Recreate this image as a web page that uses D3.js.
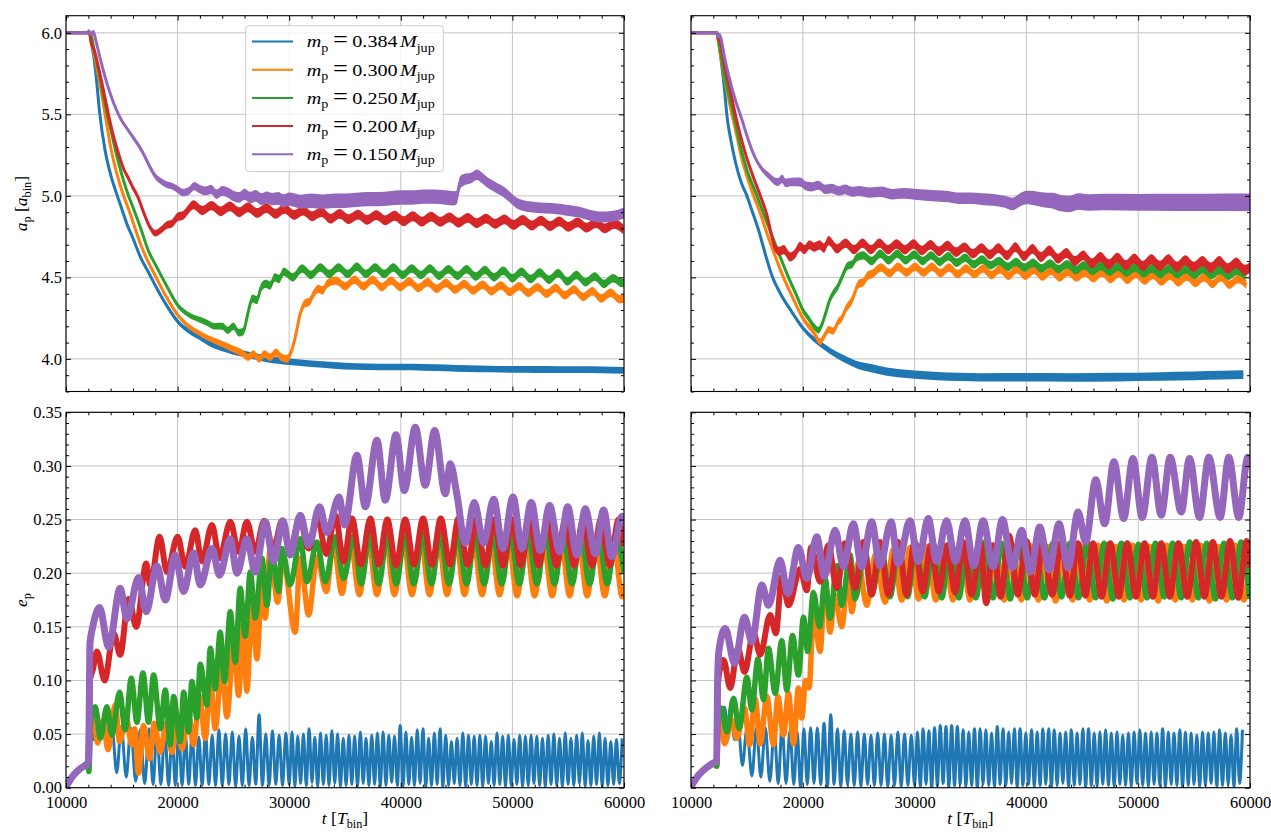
<!DOCTYPE html>
<html>
<head>
<meta charset="utf-8">
<script src="https://cdn.jsdelivr.net/npm/d3@7"></script>
<style>
  html, body { margin: 0; padding: 0; background: #fff; }
  svg { display: block; }
  text { white-space: pre; }
</style>
</head>
<body>
<div id="chart"></div>
<script>
// ---- data -------------------------------------------------------------

const masses = ['0.384', '0.300', '0.250', '0.200', '0.150'];
const tRange = [10000, 60000];

// semi-major axis, left column (pts = [t, a]; osc = values every dt from t0)
const aBlueL = {pts: [[10000,6],[12100,6],[12300,5.93],[12500,5.85],[12750,5.7],[13000,5.52],[13500,5.28],[14000,5.13],[14600,5.0],[15000,4.92],[15500,4.82],[16000,4.74],[16700,4.62],[17400,4.53],[18000,4.45],[19000,4.33],[20000,4.23],[21000,4.17],[22000,4.13],[23000,4.09],[24000,4.065],[25000,4.045],[26000,4.03],[27000,4.015],[28000,4.0],[29000,3.99],[30000,3.982],[32000,3.97],[34000,3.96],[36000,3.953],[38000,3.95],[40000,3.95],[42000,3.948],[44000,3.945],[46000,3.94],[48000,3.938],[50000,3.935],[52000,3.935],[54000,3.934],[56000,3.934],[58000,3.933],[60000,3.93]]};
const aOrangeL = {pts: [[10000,6],[12150,6],[12500,5.88],[13000,5.7],[13500,5.5],[14000,5.3],[14500,5.15],[15160,5.0],[15600,4.92],[16000,4.84],[16700,4.7],[17400,4.59],[18000,4.51],[19000,4.38],[20000,4.27],[21000,4.2],[22000,4.155],[23000,4.12],[24000,4.09],[25000,4.06],[25800,4.035],[26300,4.01],[26800,4.03],[27300,4.0],[27800,4.03],[28300,4.01],[28800,4.04],[29300,4.01],[29800,4.0],[30100,4.03],[30500,4.12],[31000,4.28],[31400,4.34],[31800,4.35],[32200,4.4],[32600,4.43],[33000,4.42],[33400,4.46]],
  t0: 34200, dt: 820,
  osc: [4.48,4.445,4.485,4.445,4.485,4.44,4.48,4.44,4.475,4.435,4.47,4.43,4.465,4.425,4.46,4.42,4.455,4.415,4.45,4.41,4.445,4.405,4.44,4.4,4.435,4.39,4.425,4.38,4.415,4.37,4.405,4.365,4.39]};
const aGreenL = {pts: [[10000,6],[12150,6],[12500,5.9],[13000,5.74],[13700,5.5],[14000,5.41],[14500,5.26],[15000,5.13],[15600,5.0],[16000,4.93],[16700,4.8],[17400,4.66],[18000,4.58],[19000,4.45],[20000,4.33],[21000,4.27],[22000,4.24],[22700,4.22],[23300,4.2],[24000,4.2],[24500,4.175],[25000,4.2],[25500,4.16],[25900,4.17],[26300,4.28],[26700,4.37],[27100,4.36],[27500,4.44],[27900,4.46],[28300,4.45],[28700,4.5],[29100,4.49]],
  t0: 29500, dt: 820,
  osc: [4.535,4.5,4.555,4.515,4.56,4.52,4.56,4.52,4.565,4.52,4.56,4.52,4.56,4.515,4.555,4.515,4.555,4.51,4.55,4.51,4.55,4.505,4.545,4.5,4.54,4.495,4.535,4.49,4.53,4.485,4.525,4.475,4.515,4.47,4.505,4.46,4.495,4.465,4.48]};
const aRedL = {pts: [[10000,6],[12100,6],[12250,5.94],[12500,5.9],[13000,5.76],[13500,5.6],[13800,5.5],[14200,5.38],[14700,5.26],[15200,5.16],[15500,5.12],[16000,5.05],[16400,5.0],[17000,4.89],[17500,4.81],[18000,4.77],[18500,4.79],[19000,4.82],[19500,4.83],[20000,4.87],[20500,4.88],[21000,4.92]],
  t0: 21400, dt: 820,
  osc: [4.945,4.91,4.94,4.905,4.935,4.9,4.93,4.895,4.925,4.89,4.92,4.883,4.91,4.875,4.9,4.86,4.89,4.857,4.885,4.853,4.882,4.85,4.878,4.845,4.875,4.842,4.872,4.84,4.868,4.836,4.865,4.832,4.86,4.828,4.856,4.822,4.852,4.818,4.848,4.814,4.843,4.81,4.838,4.805,4.833,4.8,4.828,4.795]};
const aPurpleL = {pts: [[10000,6],[11900,6],[12050,6.012],[12200,5.99],[12450,6.008],[12650,5.96],[13000,5.86],[13500,5.73],[14000,5.62],[14500,5.53],[15000,5.46],[15500,5.41],[16000,5.36],[16500,5.31],[17000,5.25],[17500,5.18],[18000,5.12],[18500,5.09],[19000,5.07],[19500,5.06],[20000,5.04],[20500,5.02],[21000,5.03],[21500,5.06],[22000,5.04],[22500,5.03],[23000,5.04],[23500,5.01],[24000,5.03],[24500,5.02],[25000,5.0],[25500,4.99],[26000,5.01],[26500,4.99],[27000,5.0],[27500,4.98],[28000,4.99],[28500,4.98],[29000,4.985],[29500,4.97],[30000,4.98],[31000,4.965],[32000,4.97],[33000,4.965],[34000,4.97],[35000,4.97],[36000,4.975],[37000,4.98],[38000,4.98],[39000,4.985],[40000,4.99],[41000,4.99],[42000,4.995],[43000,4.995],[44000,4.99],[44800,4.985],[45000,4.99],[45300,5.08],[45700,5.1],[46300,5.11],[46800,5.13],[47300,5.11],[47800,5.08],[48300,5.06],[48800,5.04],[49300,5.02],[49800,4.99],[50300,4.96],[51000,4.94],[52000,4.93],[53000,4.925],[54000,4.92],[55000,4.91],[56000,4.9],[57000,4.88],[58000,4.87],[59000,4.875],[60000,4.895]]};

// semi-major axis, right column
const aBlueR = {pts: [[10000,6],[12300,6],[12500,5.93],[12750,5.8],[13000,5.65],[13200,5.5],[13600,5.33],[14000,5.2],[14500,5.08],[15000,5.0],[15500,4.9],[16000,4.8],[16700,4.63],[17300,4.5],[18000,4.4],[19000,4.29],[20000,4.19],[21000,4.12],[22000,4.07],[23000,4.025],[24000,3.99],[25000,3.96],[26000,3.945],[27000,3.93],[28000,3.917],[29000,3.91],[30000,3.903],[32000,3.895],[34000,3.89],[36000,3.887],[40000,3.887],[44000,3.886],[48000,3.888],[52000,3.892],[55000,3.896],[57500,3.9],[59400,3.904]]};
const aOrangeR = {pts: [[10000,6],[12300,6],[12600,5.88],[13000,5.72],[13660,5.5],[14000,5.4],[14500,5.24],[15000,5.12],[15600,5.0],[16000,4.93],[17000,4.73],[18270,4.5],[19000,4.39],[20000,4.25],[21000,4.16],[21550,4.105],[22000,4.15],[22300,4.18],[22700,4.17],[23200,4.23],[23500,4.25],[23800,4.3],[24400,4.36],[25000,4.46],[25400,4.47],[25800,4.51],[26200,4.52]],
  t0: 27000, dt: 760,
  osc: [4.56,4.525,4.565,4.53,4.565,4.53,4.565,4.525,4.56,4.52,4.555,4.52,4.555,4.515,4.55,4.51,4.55,4.51,4.545,4.505,4.54,4.5,4.535,4.5,4.53,4.495,4.53,4.49,4.525,4.485,4.52,4.48,4.515,4.475,4.51,4.47,4.505,4.465,4.5,4.46,4.5,4.455,4.49,4.455]};
const aGreenR = {pts: [[10000,6],[12300,6],[12600,5.9],[13000,5.74],[13810,5.5],[14500,5.28],[15000,5.16],[15900,5.0],[16500,4.89],[17500,4.71],[18720,4.5],[19500,4.38],[20000,4.3],[20500,4.25],[21000,4.2],[21400,4.175],[21700,4.21],[22000,4.27],[22400,4.36],[22700,4.4],[23100,4.44],[23500,4.5],[24000,4.57],[24400,4.58],[24800,4.62]],
  t0: 25400, dt: 760,
  osc: [4.635,4.6,4.645,4.605,4.645,4.605,4.64,4.6,4.635,4.595,4.63,4.59,4.62,4.58,4.61,4.575,4.6,4.565,4.595,4.56,4.59,4.555,4.585,4.55,4.58,4.545,4.575,4.54,4.57,4.535,4.565,4.53,4.56,4.525,4.555,4.52,4.555,4.52,4.55,4.515,4.55,4.515,4.545,4.51,4.54,4.505]};
const aRedR = {pts: [[10000,6],[12300,6],[12450,5.96],[12600,5.95],[13000,5.8],[13500,5.65],[13960,5.5],[14500,5.35],[15000,5.23],[15500,5.13],[16200,5.0],[16800,4.88],[17200,4.76],[17530,4.68],[17900,4.66],[18300,4.67],[18870,4.625],[19300,4.645],[19750,4.69],[20150,4.67],[20600,4.7],[21000,4.685],[21500,4.7],[21900,4.68]],
  t0: 22300, dt: 760,
  osc: [4.725,4.675,4.71,4.67,4.71,4.67,4.71,4.67,4.705,4.67,4.705,4.665,4.7,4.66,4.695,4.655,4.685,4.645,4.68,4.64,4.68,4.635,4.685,4.63,4.675,4.625,4.665,4.615,4.65,4.6,4.635,4.585,4.625,4.58,4.62,4.575,4.615,4.57,4.61,4.57,4.61,4.565,4.605,4.565,4.6,4.56,4.6,4.555,4.59,4.545,4.585]};
const aPurpleR = {pts: [[10000,6],[12150,6],[12300,6.0],[12400,5.975],[12550,5.99],[12700,5.96],[13000,5.85],[13400,5.73],[14000,5.58],[14400,5.5],[15000,5.37],[15450,5.28],[16000,5.2],[16400,5.16],[17000,5.12],[17500,5.09],[17800,5.085],[18150,5.105],[18450,5.08],[19000,5.085],[19750,5.085],[20300,5.06],[20800,5.055],[21400,5.065],[22000,5.04],[22600,5.045],[23200,5.03],[23800,5.04],[24400,5.025],[25000,5.03],[26000,5.02],[27000,5.025],[28000,5.01],[29000,5.015],[30000,5.01],[31000,5.005],[32000,5.0],[33000,4.995],[34000,4.985],[35000,4.985],[36000,4.98],[37000,4.975],[38000,4.965],[38800,4.95],[39400,4.975],[40000,4.99],[40800,4.985],[41600,4.975],[42400,4.97],[43100,4.955],[43900,4.95],[44600,4.965],[45500,4.96],[47000,4.962],[50000,4.96],[53000,4.96],[56000,4.96],[60000,4.96]]};

// half-width of the fast-oscillation band around each a_p curve, [t, da]
const aBandL = [
  [[10000,0],[12300,0.001],[16000,0.008],[20000,0.014],[26000,0.02],[60000,0.021]],
  [[10000,0],[12300,0.001],[16000,0.009],[22000,0.016],[26000,0.022],[34000,0.026],[60000,0.026]],
  [[10000,0],[12300,0.001],[16000,0.01],[22000,0.018],[26000,0.024],[30000,0.026],[60000,0.026]],
  [[10000,0],[12300,0.001],[16000,0.014],[20000,0.026],[24000,0.03],[60000,0.03]],
  [[10000,0],[12300,0.001],[16000,0.014],[20000,0.022],[26000,0.034],[32000,0.044],[44800,0.044],[46000,0.032],[60000,0.034]]
];
const aBandR = [
  [[10000,0],[12300,0.001],[16000,0.008],[20000,0.015],[26000,0.025],[60000,0.027]],
  [[10000,0],[12300,0.001],[16000,0.01],[21000,0.02],[26000,0.026],[60000,0.026]],
  [[10000,0],[12300,0.001],[16000,0.01],[21000,0.02],[26000,0.026],[60000,0.026]],
  [[10000,0],[12300,0.001],[16000,0.014],[18000,0.028],[60000,0.032]],
  [[10000,0],[12300,0.001],[16000,0.014],[18000,0.026],[30000,0.034],[38000,0.036],[43000,0.05],[60000,0.054]]
];

// eccentricity, left column (peaks and troughs)
const eBlueL = {pts: [[10000,0.001],[10700,0.012],[11300,0.018],[12000,0.023],[12100,0.05],[12450,0.045],[12770,0.07],[13100,0.05],[13400,0.066],[13750,0.048],[14100,0.058],[14550,0.014],[14950,0.057],[15400,0.01],[15800,0.056],[16250,0.006],[16650,0.054],[17050,0.004],[17450,0.055],[17800,0.003],[18150,0.053],[18500,0.003],[18850,0.052],[19200,0.002],[19500,0.05],[19800,0.002],[20100,0.053],[20400,0.002],[20700,0.049],[21000,0.003],[21300,0.052],[21600,0.002],[21900,0.047],[22200,0.002],[22500,0.051],[22800,0.003],[23100,0.049],[23400,0.002],[23700,0.054],[24000,0.002],[24300,0.05],[24600,0.003],[24900,0.052],[25200,0.001],[25500,0.048],[25800,0.002],[26100,0.055],[26400,0.002],[26700,0.047],[27000,0.003],[27300,0.068],[27600,0.002],[27900,0.05],[28200,0.002],[28500,0.053],[28800,0.003],[29100,0.049],[29400,0.002],[29700,0.051]],
  t0: 30000, dt: 255,
  osc: [0.003,0.052,0.001,0.048,0.004,0.05,0.002,0.055,0.005,0.047,0.001,0.051,0.003,0.049,0.002,0.053,0.004,0.05,0.001,0.046,
        0.002,0.049,0.003,0.048,0.001,0.052,0.004,0.046,0.002,0.049,0.003,0.051,0.001,0.052,0.002,0.049,0.005,0.048,0.002,0.058,
        0.001,0.052,0.003,0.047,0.002,0.054,0.004,0.055,0.001,0.046,0.002,0.051,0.003,0.055,0.001,0.049,0.002,0.043,0.004,0.046,
        0.002,0.051,0.001,0.049,0.003,0.048,0.002,0.049,0.001,0.048,0.004,0.043,0.002,0.051,0.003,0.048,0.001,0.049,0.002,0.045,
        0.003,0.049,0.001,0.048,0.002,0.049,0.004,0.048,0.002,0.046,0.001,0.049,0.003,0.05,0.002,0.046,0.001,0.051,0.003,0.046,
        0.002,0.049,0.004,0.051,0.001,0.044,0.002,0.048,0.003,0.051,0.001,0.046,0.002,0.043,0.003,0.045,0.004,0.046]};
const eOrangeL = {pts: [[10000,0.001],[10700,0.012],[11300,0.018],[12000,0.023],[12050,0.03],[12200,0.055],[12470,0.0646],[12830,0.0417],[13310,0.063],[13760,0.0355],[14420,0.077],[14800,0.043],[15400,0.065],[15900,0.04],[16150,0.055],[16500,0.0135],[16950,0.058],[17490,0.027],[17910,0.06],[18450,0.033],[18980,0.06],[19490,0.033],[19940,0.065],[20390,0.036],[20990,0.068],[21430,0.04],[21970,0.085],[22480,0.046],[22930,0.102],[23370,0.055],[23970,0.115],[24420,0.066],[25020,0.135],[25470,0.086],[25850,0.152],[26210,0.09],[26660,0.17],[27110,0.12],[27560,0.195],[27850,0.158],[28300,0.223],[28960,0.173],[29440,0.214],[30540,0.145],[30990,0.214],[31740,0.161],[32480,0.215],[33320,0.183],[33980,0.228],[34720,0.181],[35470,0.232],[36290,0.18],[37080,0.233],[37860,0.18],[38650,0.233],[39430,0.18],[40220,0.233],[41000,0.18],[41790,0.233],[42570,0.18],[43360,0.233],[44140,0.18],[44930,0.233],[45710,0.18],[46500,0.233],[47280,0.18],[48070,0.232],[48850,0.18],[49640,0.232],[50420,0.179],[51210,0.232],[51990,0.179],[52780,0.232],[53560,0.179],[54350,0.232],[55130,0.179],[55920,0.232],[56700,0.179],[57490,0.232],[58270,0.179],[59060,0.232],[59840,0.178],[60000,0.19]]};
const eGreenL = {pts: [[10000,0.001],[10700,0.012],[11300,0.018],[12000,0.023],[12050,0.015],[12200,0.06],[12620,0.0755],[13070,0.046],[13670,0.0755],[14120,0.049],[14800,0.089],[15310,0.054],[15850,0.102],[16360,0.061],[16890,0.107],[17400,0.061],[17850,0.105],[18450,0.055],[18900,0.091],[19340,0.04],[19640,0.085],[20240,0.043],[20540,0.089],[20990,0.052],[21280,0.099],[21730,0.065],[22030,0.115],[22630,0.077],[22930,0.13],[23370,0.092],[23820,0.145],[24210,0.099],[24720,0.164],[25170,0.117],[25610,0.186],[26060,0.141],[26510,0.201],[26960,0.158],[27560,0.214],[28000,0.17],[28450,0.22],[29050,0.183],[29350,0.223],[30090,0.189],[30990,0.232],[31590,0.192],[32480,0.229],[33230,0.192],[34130,0.234],[34870,0.195],[35770,0.235],[36445,0.19],[37230,0.236],[38020,0.19],[38810,0.236],[39595,0.19],[40380,0.236],[41170,0.19],[41960,0.236],[42745,0.19],[43530,0.236],[44320,0.19],[45110,0.236],[45895,0.19],[46680,0.236],[47470,0.19],[48260,0.236],[49045,0.19],[49830,0.236],[50620,0.19],[51410,0.236],[52195,0.19],[52980,0.236],[53770,0.19],[54560,0.236],[55345,0.19],[56130,0.236],[56920,0.19],[57710,0.236],[58495,0.19],[59280,0.236],[60000,0.2]]};
const eRedL = {pts: [[10000,0.001],[10700,0.012],[11300,0.018],[12000,0.023],[12050,0.05],[12150,0.1],[12400,0.11],[12770,0.127],[13460,0.1],[14270,0.144],[14860,0.124],[15610,0.176],[16300,0.15],[17190,0.209],[17550,0.189],[18390,0.234],[19040,0.201],[20000,0.234],[20690,0.206],[21580,0.24],[22180,0.211],[23080,0.245],[23760,0.214],[24720,0.248],[25470,0.22],[26210,0.248],[26960,0.22],[27760,0.249],[28600,0.223],[29350,0.249],[30090,0.223],[30930,0.251],[31740,0.223],[32540,0.252],[33320,0.218],[34130,0.254],[34880,0.211],[35620,0.251],[36430,0.208],[37270,0.251],[38010,0.208],[38790,0.25],[39570,0.207],[40400,0.25],[41180,0.208],[42000,0.251],[42790,0.208],[43580,0.251],[44400,0.208],[45170,0.251],[45990,0.208],[46770,0.25],[47580,0.207],[48360,0.25],[49160,0.207],[49960,0.25],[50750,0.207],[51550,0.25],[52350,0.207],[53140,0.25],[53940,0.207],[54740,0.25],[55530,0.207],[56330,0.25],[57130,0.207],[57920,0.25],[58720,0.207],[59520,0.25],[60000,0.225]]};
const ePurpleL = {pts: [[10000,0.001],[10700,0.012],[11300,0.018],[12000,0.023],[12050,0.04],[12150,0.135],[12400,0.15],[13010,0.168],[13820,0.131],[14860,0.186],[15460,0.157],[16500,0.196],[17190,0.164],[18150,0.207],[18900,0.175],[19790,0.217],[20540,0.183],[21430,0.219],[22030,0.189],[23080,0.223],[23760,0.198],[24720,0.232],[25320,0.2],[26210,0.232],[26960,0.201],[27850,0.248],[28600,0.211],[29440,0.249],[30090,0.217],[30990,0.254],[31740,0.226],[32720,0.262],[33380,0.238],[34470,0.271],[34960,0.245],[36070,0.31],[36820,0.262],[37860,0.324],[38610,0.268],[39570,0.329],[40310,0.277],[41300,0.336],[42190,0.282],[43030,0.333],[43990,0.274],[44430,0.302],[45030,0.273],[45780,0.228],[46580,0.266],[47420,0.228],[48320,0.269],[49150,0.223],[50050,0.271],[50860,0.223],[51690,0.266],[52500,0.221],[53330,0.263],[54230,0.22],[54950,0.262],[55780,0.217],[56530,0.26],[57430,0.218],[58170,0.259],[58920,0.215],[59820,0.253],[60000,0.245]]};

// eccentricity, right column
const eBlueR = {pts: [[10000,0.001],[10700,0.012],[11300,0.018],[12000,0.023],[12300,0.02],[12380,0.05],[12700,0.058],[13000,0.075],[13300,0.05],[13600,0.065],[13900,0.045],[14200,0.06],[14600,0.021],[15000,0.055],[15450,0.011],[15850,0.056],[16250,0.01],[16650,0.056],[17050,0.006],[17450,0.054],[17800,0.004],[18150,0.058],[18500,0.004],[18850,0.053],[19200,0.003],[19500,0.052],[19800,0.0],[20100,0.055],[20400,0.003],[20700,0.056],[21000,0.004],[21300,0.056],[21600,0.003],[21900,0.06],[22200,0.001],[22500,0.068],[22800,0.003],[23100,0.055],[23400,0.001],[23700,0.053],[24000,0.003],[24300,0.05],[24600,0.002],[24900,0.052],[25200,0.001],[25500,0.05],[25800,0.003],[26100,0.049],[26400,0.002],[26700,0.051],[27000,0.002],[27300,0.05],[27600,0.001],[27900,0.049],[28200,0.002],[28500,0.052],[28800,0.001],[29100,0.05],[29400,0.002],[29700,0.049]],
  t0: 30000, dt: 255,
  osc: [0.002,0.052,0.001,0.055,0.003,0.053,0.0,0.056,0.002,0.058,0.004,0.057,0.001,0.058,0.002,0.057,0.003,0.054,0.001,0.052,
        0.002,0.055,0.0,0.055,0.003,0.054,0.002,0.051,0.001,0.057,0.003,0.055,0.002,0.052,0.004,0.055,0.001,0.055,0.002,0.051,
        0.003,0.054,0.001,0.052,0.002,0.055,0.003,0.055,0.001,0.054,0.002,0.051,0.004,0.052,0.001,0.054,0.002,0.051,0.003,0.055,
        0.001,0.055,0.002,0.051,0.001,0.052,0.003,0.054,0.002,0.051,0.001,0.052,0.003,0.049,0.002,0.051,0.001,0.052,0.004,0.054,
        0.002,0.051,0.001,0.052,0.003,0.051,0.002,0.055,0.001,0.052,0.003,0.051,0.002,0.054,0.001,0.052,0.002,0.051,0.003,0.049,
        0.001,0.052,0.002,0.051,0.004,0.052,0.001,0.054,0.002,0.051,0.003,0.049,0.001,0.055,0.004,0.054]};
const eOrangeR = {pts: [[10000,0.001],[10700,0.012],[11300,0.018],[12000,0.023],[12300,0.02],[12400,0.05],[12700,0.0645],[13000,0.041],[13660,0.063],[14100,0.046],[14790,0.074],[15240,0.04],[15740,0.083],[16190,0.041],[16780,0.085],[17380,0.04],[17770,0.085],[18270,0.049],[18720,0.088],[19170,0.041],[19610,0.093],[19910,0.065],[20250,0.1],[20560,0.093],[20950,0.161],[21550,0.127],[21990,0.195],[22440,0.145],[22850,0.18],[23480,0.15],[24080,0.201],[24380,0.164],[24970,0.21],[25710,0.17],[26500,0.217],[27350,0.173],[28100,0.222],[28850,0.175],[29600,0.224],[30365,0.176],[31130,0.225],[31895,0.175],[32660,0.225],[33425,0.175],[34190,0.226],[34955,0.175],[35720,0.225],[36485,0.174],[37250,0.226],[38015,0.175],[38780,0.225],[39545,0.175],[40310,0.226],[41075,0.175],[41840,0.225],[42605,0.174],[43370,0.226],[44135,0.175],[44900,0.225],[45665,0.175],[46430,0.226],[47195,0.174],[47960,0.225],[48725,0.175],[49490,0.226],[50255,0.175],[51020,0.225],[51785,0.174],[52550,0.226],[53315,0.175],[54080,0.225],[54845,0.175],[55610,0.226],[56375,0.174],[57140,0.225],[57905,0.175],[58670,0.226],[59435,0.175],[60000,0.215]]};
const eGreenR = {pts: [[10000,0.001],[10700,0.012],[11300,0.018],[12000,0.023],[12300,0.02],[12400,0.06],[12700,0.0743],[13210,0.052],[13810,0.0833],[14300,0.055],[15000,0.103],[15440,0.0725],[15980,0.12],[16490,0.082],[16930,0.13],[17530,0.088],[18120,0.137],[18570,0.091],[19080,0.142],[19610,0.105],[20060,0.159],[20440,0.127],[20950,0.182],[21500,0.15],[21990,0.195],[22440,0.158],[23040,0.207],[23480,0.17],[24230,0.217],[24670,0.176],[25570,0.22],[26160,0.18],[27050,0.221],[27800,0.178],[28600,0.225],[29365,0.178],[30130,0.227],[30895,0.178],[31660,0.228],[32425,0.177],[33190,0.228],[33955,0.177],[34720,0.228],[35485,0.177],[36250,0.229],[37015,0.177],[37780,0.228],[38545,0.176],[39310,0.228],[40075,0.177],[40840,0.227],[41605,0.177],[42370,0.228],[43135,0.178],[43900,0.228],[44665,0.177],[45430,0.229],[46195,0.177],[46960,0.228],[47725,0.176],[48490,0.228],[49255,0.177],[50020,0.227],[50785,0.177],[51550,0.228],[52315,0.178],[53080,0.228],[53845,0.177],[54610,0.229],[55375,0.177],[56140,0.228],[56905,0.176],[57670,0.228],[58435,0.177],[59200,0.229],[59965,0.176]]};
const eRedR = {pts: [[10000,0.001],[10700,0.012],[11300,0.018],[12000,0.023],[12300,0.025],[12380,0.09],[12500,0.105],[12910,0.119],[13510,0.093],[14190,0.13],[14790,0.108],[15590,0.144],[16190,0.124],[17080,0.161],[17590,0.144],[18120,0.197],[18720,0.17],[19760,0.204],[20360,0.184],[20740,0.224],[21550,0.192],[22290,0.226],[23040,0.186],[23780,0.228],[24670,0.186],[25420,0.229],[26160,0.18],[26900,0.229],[27650,0.18],[28540,0.229],[29270,0.18],[30000,0.229],[30720,0.183],[31450,0.226],[32170,0.183],[32900,0.226],[33620,0.182],[34345,0.229],[35100,0.18],[35893,0.228],[36400,0.172],[37025,0.226],[37700,0.178],[38453,0.235],[39230,0.18],[40000,0.23],[40750,0.18],[41490,0.229],[42300,0.18],[43127,0.229],[43870,0.179],[44615,0.228],[45280,0.179],[45955,0.228],[46730,0.178],[47503,0.228],[48260,0.178],[49021,0.228],[49800,0.178],[50569,0.228],[51310,0.178],[52057,0.228],[52830,0.178],[53605,0.228],[54390,0.178],[55183,0.229],[55930,0.178],[56671,0.229],[57450,0.178],[58219,0.23],[58960,0.177],[59707,0.23],[60000,0.205]]};
const ePurpleR = {pts: [[10000,0.001],[10700,0.012],[11300,0.018],[12000,0.023],[12300,0.025],[12380,0.1],[12500,0.128],[13060,0.1485],[13900,0.116],[14790,0.159],[15440,0.136],[16340,0.189],[16930,0.17],[17970,0.212],[18660,0.181],[19610,0.224],[20360,0.195],[21250,0.234],[21930,0.197],[22890,0.24],[23630,0.206],[24520,0.246],[25270,0.206],[26160,0.248],[26900,0.207],[27890,0.248],[28540,0.209],[29580,0.249],[30330,0.211],[31220,0.251],[31970,0.211],[32860,0.249],[33660,0.211],[34500,0.249],[35300,0.207],[36130,0.249],[37030,0.206],[37860,0.25],[38750,0.205],[39560,0.24],[40360,0.201],[41190,0.243],[42030,0.203],[42920,0.246],[43730,0.205],[44620,0.257],[45300,0.229],[46200,0.287],[47000,0.246],[47830,0.304],[48700,0.251],[49530,0.307],[50360,0.252],[51230,0.308],[52060,0.254],[52860,0.308],[53850,0.257],[54590,0.307],[55480,0.252],[56320,0.308],[57330,0.252],[58100,0.308],[59000,0.252],[59800,0.308],[60000,0.298]]};

// ---- chart ------------------------------------------------------------

const width = 1271, height = 832;
const serif = "'Liberation Serif', 'DejaVu Serif', serif";
const colors = ['#1f77b4', '#ff7f0e', '#2ca02c', '#d62728', '#9467bd'];
const eWidths = [3, 5.5, 5.5, 6, 7];
const fontSize = 16.5;

const cols = [{x0: 66, x1: 624}, {x0: 691, x1: 1250}];
const rows = [
  {y0: 15.7, y1: 391.5, domain: [3.8, 6.105], nMaj: 5, nMin: 25, fmt: d3.format('.1f')},
  {y0: 412.3, y1: 787.7, domain: [0, 0.35], nMaj: 7, nMin: 35, fmt: d3.format('.2f')}
];

const panels = [
  {col: 0, row: 0, series: [aBlueL, aOrangeL, aGreenL, aRedL, aPurpleL], bands: aBandL},
  {col: 1, row: 0, series: [aBlueR, aOrangeR, aGreenR, aRedR, aPurpleR], bands: aBandR},
  {col: 0, row: 1, series: [eBlueL, eOrangeL, eGreenL, eRedL, ePurpleL]},
  {col: 1, row: 1, series: [eBlueR, eOrangeR, eGreenR, eRedR, ePurpleR]}
];

const svg = d3.select('#chart').append('svg')
  .attr('width', width)
  .attr('height', height)
  .style('font-family', serif);

function expand(s) {
  const out = s.pts.slice();
  (s.osc || []).forEach((v, i) => out.push([s.t0 + i * s.dt, v]));
  return out;
}

// mini math typesetting: [text, kind, dx, scale], kind i = italic, r = roman, s = subscript
function mathText(sel, parts, size) {
  const t = sel.append('text').attr('font-size', size);
  let shift = 0;
  parts.forEach(([str, kind, dx, scale]) => {
    const ts = t.append('tspan').text(str);
    if (kind === 'i') ts.attr('font-style', 'italic');
    const target = kind === 's' ? size * 0.24 : 0;
    if (target !== shift) {
      ts.attr('dy', target - shift);
      shift = target;
    }
    if (dx) ts.attr('dx', dx);
    if (kind === 's') ts.attr('font-size', size * 0.7);
    else if (scale) ts.attr('font-size', size * scale);
  });
  return t;
}

panels.forEach((p, k) => drawPanel(p, k));

function drawPanel(p, k) {
  const c = cols[p.col], r = rows[p.row];
  const x = d3.scaleLinear().domain(tRange).range([c.x0, c.x1]);
  const y = d3.scaleLinear().domain(r.domain).range([r.y1, r.y0]);
  const g = svg.append('g');

  g.append('clipPath').attr('id', 'clip' + k)
    .append('rect')
    .attr('x', c.x0).attr('y', r.y0)
    .attr('width', c.x1 - c.x0).attr('height', r.y1 - r.y0);

  // grid
  const grid = g.append('g').attr('stroke', '#c4c4c4').attr('stroke-width', 1);
  grid.selectAll('line.gx').data(x.ticks(5)).join('line').attr('class', 'gx')
    .attr('x1', d => x(d)).attr('x2', d => x(d))
    .attr('y1', r.y0).attr('y2', r.y1);
  grid.selectAll('line.gy').data(y.ticks(r.nMaj)).join('line').attr('class', 'gy')
    .attr('x1', c.x0).attr('x2', c.x1)
    .attr('y1', d => y(d)).attr('y2', d => y(d));

  // data
  const plot = g.append('g').attr('clip-path', `url(#clip${k})`);
  p.series.forEach((s, i) => {
    const pts = expand(s);
    const line = d3.line()
      .x(d => x(d[0]))
      .y(d => y(d[1]))
      .curve(d3.curveMonotoneX);
    if (p.bands) {
      const band = p.bands[i];
      const hw = d3.scaleLinear()
        .domain(band.map(d => d[0]))
        .range(band.map(d => d[1]))
        .clamp(true);
      const area = d3.area()
        .x(d => x(d[0]))
        .y0(d => y(d[1] - hw(d[0])))
        .y1(d => y(d[1] + hw(d[0])))
        .curve(d3.curveMonotoneX);
      plot.append('path').datum(pts)
        .attr('d', area)
        .attr('fill', colors[i]);
      plot.append('path').datum(pts)
        .attr('d', line)
        .attr('fill', 'none')
        .attr('stroke', colors[i])
        .attr('stroke-width', 3)
        .attr('stroke-linejoin', 'round');
    } else {
      plot.append('path').datum(pts)
        .attr('d', line)
        .attr('fill', 'none')
        .attr('stroke', colors[i])
        .attr('stroke-width', eWidths[i])
        .attr('stroke-linejoin', 'round');
    }
  });

  // spines
  g.append('rect')
    .attr('x', c.x0).attr('y', r.y0)
    .attr('width', c.x1 - c.x0).attr('height', r.y1 - r.y0)
    .attr('fill', 'none')
    .attr('stroke', '#000')
    .attr('stroke-width', 1.1);

  // ticks, all pointing inwards
  const noLabel = () => '';
  const addAxis = (axis, tx, ty, vals, size, fmt, pad) => g.append('g')
    .attr('transform', `translate(${tx},${ty})`)
    .call(axis.tickValues(vals).tickSize(-size).tickPadding(pad).tickFormat(fmt))
    .call(a => a.select('.domain').remove())
    .attr('font-family', serif)
    .attr('font-size', fontSize);

  const xMaj = x.ticks(5), xMin = x.ticks(25).filter(d => !xMaj.includes(d));
  const yMaj = y.ticks(r.nMaj), yMin = y.ticks(r.nMin).filter(d => !yMaj.some(m => Math.abs(m - d) < 1e-9));

  addAxis(d3.axisBottom(x), 0, r.y1, xMaj, 5, p.row === 1 ? d3.format('d') : noLabel, 9);
  addAxis(d3.axisBottom(x), 0, r.y1, xMin, 3, noLabel, 9);
  addAxis(d3.axisTop(x), 0, r.y0, xMaj, 5, noLabel, 8);
  addAxis(d3.axisTop(x), 0, r.y0, xMin, 3, noLabel, 8);
  addAxis(d3.axisLeft(y), c.x0, 0, yMaj, 5, p.col === 0 ? r.fmt : noLabel, 4);
  addAxis(d3.axisLeft(y), c.x0, 0, yMin, 3, noLabel, 4);
  addAxis(d3.axisRight(y), c.x1, 0, yMaj, 5, noLabel, 4);
  addAxis(d3.axisRight(y), c.x1, 0, yMin, 3, noLabel, 4);
}

// axis labels
const yLabA = mathText(svg, [['a', 'i'], ['p', 's'], [' [', 'r'], ['a', 'i'], ['bin', 's'], [']', 'r']], 17.5);
yLabA.attr('text-anchor', 'middle')
  .attr('transform', `translate(27,${(rows[0].y0 + rows[0].y1) / 2}) rotate(-90)`);
const yLabE = mathText(svg, [['e', 'i'], ['p', 's']], 17.5);
yLabE.attr('text-anchor', 'middle')
  .attr('transform', `translate(27,${(rows[1].y0 + rows[1].y1) / 2}) rotate(-90)`);
cols.forEach(c => {
  mathText(svg, [['t', 'i'], [' [', 'r'], ['T', 'i'], ['bin', 's'], [']', 'r']], 17.5)
    .attr('text-anchor', 'middle')
    .attr('x', (c.x0 + c.x1) / 2)
    .attr('y', 824);
});

// legend
const legend = svg.append('g');
legend.append('rect')
  .attr('x', 245.7).attr('y', 25.7)
  .attr('width', 197.6).attr('height', 146)
  .attr('rx', 3)
  .attr('fill', '#fff').attr('fill-opacity', 0.8)
  .attr('stroke', '#cccccc').attr('stroke-width', 1);
masses.forEach((m, i) => {
  const ly = 41.5 + i * 28.2;
  legend.append('line')
    .attr('x1', 252).attr('x2', 293)
    .attr('y1', ly).attr('y2', ly)
    .attr('stroke', colors[i]).attr('stroke-width', 2);
  mathText(legend, [['m', 'i'], ['p', 's'], ['=', 'r', 4, 1.3], [m, 'r', 4], ['M', 'i', 2], ['jup', 's']], 17.5)
    .attr('x', 306.7)
    .attr('y', ly + 5.8)
    .attr('textLength', 128)
    .attr('lengthAdjust', 'spacingAndGlyphs');
});
</script>
</body>
</html>
